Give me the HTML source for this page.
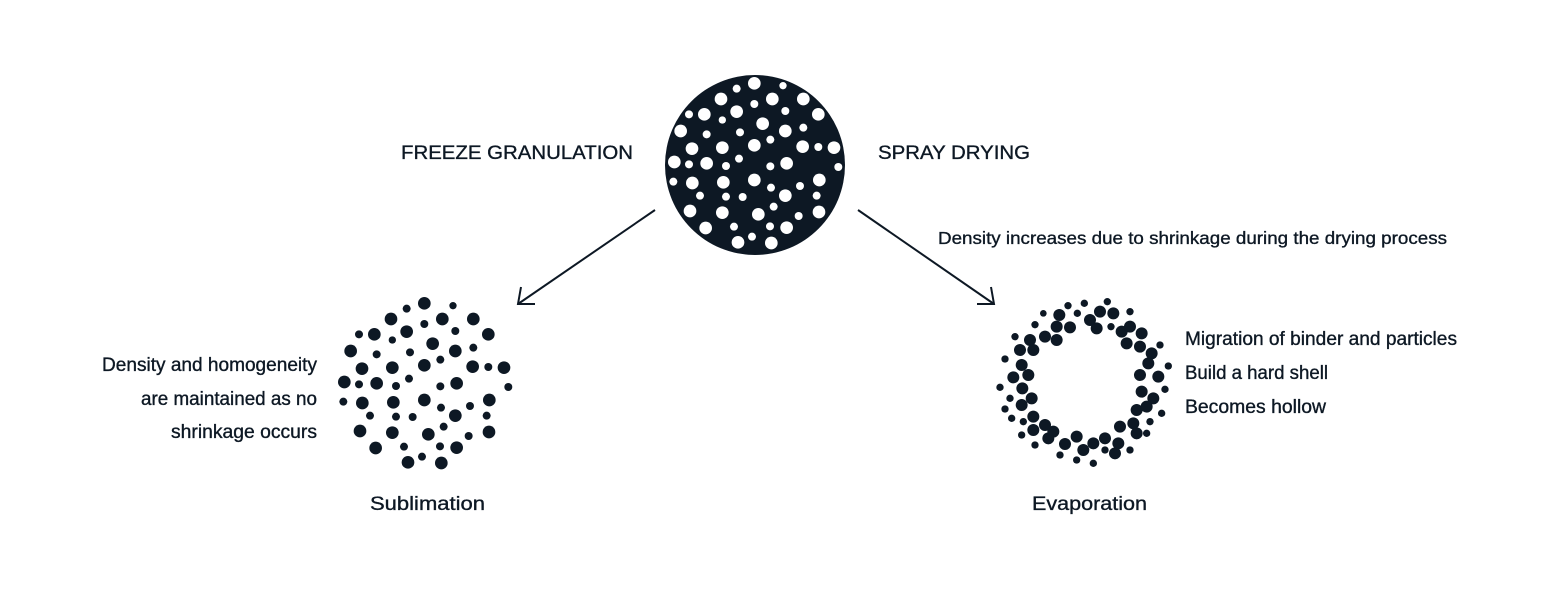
<!DOCTYPE html>
<html><head><style>
body{margin:0;background:#fff;}
svg{display:block}
text{font-family:"Liberation Sans",sans-serif;fill:#0d1824;font-size:19px;stroke:#0d1824;stroke-width:0.35px}
</style></head><body>
<svg width="1560" height="591" viewBox="0 0 1560 591">
<defs>
<g id="pat" transform="scale(0.3333)">
<circle cx="283" cy="40" r="19"/><circle cx="230" cy="56" r="12"/><circle cx="369" cy="47" r="11"/>
<circle cx="183" cy="87" r="19"/><circle cx="337" cy="87" r="19"/><circle cx="430" cy="87" r="19"/><circle cx="283" cy="102" r="12"/>
<circle cx="87" cy="133" r="12"/><circle cx="133" cy="133" r="19"/><circle cx="230" cy="125" r="19"/><circle cx="376" cy="123" r="12"/><circle cx="475" cy="133" r="19"/>
<circle cx="187" cy="150" r="11"/><circle cx="308" cy="161" r="19"/><circle cx="62" cy="183" r="19"/><circle cx="140" cy="193" r="12"/><circle cx="240" cy="187" r="12"/><circle cx="376" cy="183" r="19"/><circle cx="430" cy="173" r="12"/>
<circle cx="96" cy="236" r="19"/><circle cx="187" cy="233" r="19"/><circle cx="283" cy="226" r="19"/><circle cx="331" cy="209" r="12"/><circle cx="428" cy="230" r="19"/><circle cx="475" cy="231" r="12"/><circle cx="522" cy="233" r="19"/>
<circle cx="43" cy="276" r="19"/><circle cx="87" cy="283" r="12"/><circle cx="140" cy="280" r="19"/><circle cx="237" cy="266" r="12"/><circle cx="198" cy="288" r="12"/><circle cx="331" cy="289" r="12"/><circle cx="380" cy="280" r="19"/><circle cx="535" cy="291" r="12"/>
<circle cx="40" cy="335" r="12"/><circle cx="97" cy="339" r="19"/><circle cx="190" cy="337" r="19"/><circle cx="283" cy="330" r="19"/><circle cx="333" cy="353" r="12"/><circle cx="420" cy="348" r="12"/><circle cx="478" cy="330" r="19"/>
<circle cx="120" cy="377" r="12"/><circle cx="198" cy="380" r="12"/><circle cx="248" cy="381" r="12"/><circle cx="376" cy="377" r="19"/><circle cx="470" cy="377" r="12"/>
<circle cx="90" cy="423" r="19"/><circle cx="187" cy="428" r="19"/><circle cx="295" cy="433" r="19"/><circle cx="341" cy="410" r="12"/><circle cx="416" cy="438" r="12"/><circle cx="477" cy="426" r="19"/>
<circle cx="137" cy="474" r="19"/><circle cx="222" cy="470" r="12"/><circle cx="330" cy="469" r="12"/><circle cx="380" cy="473" r="19"/>
<circle cx="234" cy="517" r="19"/><circle cx="276" cy="500" r="12"/><circle cx="334" cy="519" r="19"/>
</g>
</defs>
<circle cx="755" cy="165" r="90" fill="#0d1824"/>
<use href="#pat" x="660" y="70" fill="#fff"/>
<use href="#pat" x="330" y="290" fill="#0d1824"/>
<g fill="#0d1824" transform="translate(990,290) scale(0.3333)">
<circle cx="352" cy="35" r="11"/><circle cx="283" cy="40" r="11"/><circle cx="234" cy="47" r="11"/><circle cx="160" cy="70" r="10"/><circle cx="208" cy="75" r="18"/><circle cx="262" cy="70" r="11"/><circle cx="300" cy="90" r="18"/><circle cx="330" cy="65" r="18"/><circle cx="370" cy="70" r="18"/><circle cx="420" cy="65" r="11"/><circle cx="135" cy="104" r="11"/><circle cx="165" cy="140" r="18"/><circle cx="200" cy="110" r="18"/><circle cx="240" cy="112" r="18"/><circle cx="200" cy="150" r="18"/><circle cx="320" cy="115" r="18"/><circle cx="363" cy="110" r="11"/><circle cx="395" cy="125" r="18"/><circle cx="420" cy="110" r="18"/><circle cx="455" cy="130" r="18"/><circle cx="75" cy="140" r="11"/><circle cx="120" cy="150" r="18"/><circle cx="90" cy="180" r="18"/><circle cx="130" cy="180" r="18"/><circle cx="410" cy="160" r="18"/><circle cx="450" cy="170" r="18"/><circle cx="485" cy="190" r="18"/><circle cx="510" cy="165" r="11"/><circle cx="45" cy="207" r="11"/><circle cx="95" cy="225" r="18"/><circle cx="115" cy="255" r="18"/><circle cx="70" cy="262" r="18"/><circle cx="475" cy="220" r="18"/><circle cx="450" cy="255" r="18"/><circle cx="505" cy="260" r="18"/><circle cx="535" cy="228" r="11"/><circle cx="30" cy="292" r="11"/><circle cx="97" cy="295" r="18"/><circle cx="60" cy="325" r="11"/><circle cx="125" cy="325" r="18"/><circle cx="95" cy="345" r="18"/><circle cx="455" cy="305" r="18"/><circle cx="490" cy="325" r="18"/><circle cx="525" cy="298" r="11"/><circle cx="45" cy="357" r="11"/><circle cx="130" cy="380" r="18"/><circle cx="100" cy="395" r="11"/><circle cx="65" cy="385" r="11"/><circle cx="440" cy="360" r="18"/><circle cx="470" cy="350" r="18"/><circle cx="515" cy="370" r="11"/><circle cx="130" cy="420" r="18"/><circle cx="165" cy="405" r="18"/><circle cx="190" cy="425" r="18"/><circle cx="95" cy="435" r="11"/><circle cx="175" cy="445" r="18"/><circle cx="260" cy="440" r="18"/><circle cx="225" cy="462" r="18"/><circle cx="280" cy="480" r="18"/><circle cx="310" cy="460" r="18"/><circle cx="345" cy="445" r="18"/><circle cx="390" cy="410" r="18"/><circle cx="430" cy="400" r="18"/><circle cx="440" cy="430" r="18"/><circle cx="480" cy="395" r="11"/><circle cx="470" cy="430" r="11"/><circle cx="385" cy="460" r="18"/><circle cx="345" cy="480" r="11"/><circle cx="375" cy="490" r="18"/><circle cx="310" cy="520" r="11"/><circle cx="260" cy="510" r="11"/><circle cx="210" cy="495" r="11"/><circle cx="135" cy="465" r="11"/><circle cx="420" cy="480" r="11"/>
</g>
<g stroke="#0d1824" stroke-width="2" fill="none">
<line x1="655" y1="210" x2="518" y2="304"/>
<polyline points="521,287 518,304 535,304"/>
<line x1="858" y1="210" x2="994" y2="304"/>
<polyline points="977,304 994,304 991,287"/>
</g>
<text x="401" y="159" textLength="232" lengthAdjust="spacingAndGlyphs">FREEZE GRANULATION</text>
<text x="878" y="159" textLength="152" lengthAdjust="spacingAndGlyphs">SPRAY DRYING</text>
<text x="938" y="244" style="font-size:17.5px" textLength="509" lengthAdjust="spacingAndGlyphs">Density increases due to shrinkage during the drying process</text>
<g style="font-size:17.5px">
<text x="102" y="371" textLength="215" lengthAdjust="spacingAndGlyphs">Density and homogeneity</text>
<text x="141" y="405" textLength="176" lengthAdjust="spacingAndGlyphs">are maintained as no</text>
<text x="171" y="438" textLength="146" lengthAdjust="spacingAndGlyphs">shrinkage occurs</text>
</g>
<g style="font-size:17.5px">
<text x="1185" y="345" textLength="272" lengthAdjust="spacingAndGlyphs">Migration of binder and particles</text>
<text x="1185" y="379" textLength="143" lengthAdjust="spacingAndGlyphs">Build a hard shell</text>
<text x="1185" y="413" textLength="141" lengthAdjust="spacingAndGlyphs">Becomes hollow</text>
</g>
<text x="370" y="510" textLength="115" lengthAdjust="spacingAndGlyphs">Sublimation</text>
<text x="1032" y="510" textLength="115" lengthAdjust="spacingAndGlyphs">Evaporation</text>
</svg>
</body></html>
